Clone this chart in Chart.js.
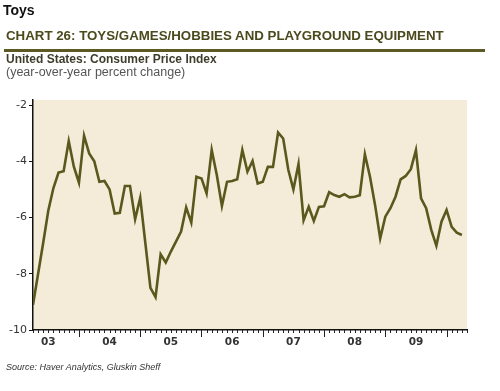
<!DOCTYPE html>
<html>
<head>
<meta charset="utf-8">
<script src="https://cdn.jsdelivr.net/npm/chart.js@4/dist/chart.umd.min.js"></script>
<style>
  html, body { margin: 0; padding: 0; background: #fff; }
  #wrap { position: relative; width: 500px; height: 391px; overflow: hidden; font-family: "Liberation Sans", Arial, sans-serif; }
  #wrap canvas { position: absolute; left: 0; top: 0; }
  .txt { position: absolute; white-space: nowrap; }
  #top { left: 3px; top: 2px; font-size: 14px; font-weight: bold; color: #111; }
  #title { left: 6px; top: 28px; font-size: 13.3px; font-weight: bold; color: #4b4a1d; }
  #rule { position: absolute; left: 4px; top: 49px; width: 481px; height: 3px; background: #5c5a22; }
  #sub1 { left: 6px; top: 52px; font-size: 12px; font-weight: bold; color: #3e3d2c; }
  #sub2 { left: 6px; top: 65px; font-size: 12.5px; color: #555; }
  #src { left: 6px; top: 362px; font-size: 9px; font-style: italic; color: #333; }
</style>
</head>
<body>
<div id="wrap">
  <canvas id="grafico" width="500" height="391"></canvas>
  <div class="txt" id="top">Toys</div>
  <div class="txt" id="title">CHART 26: TOYS/GAMES/HOBBIES AND PLAYGROUND EQUIPMENT</div>
  <div id="rule"></div>
  <div class="txt" id="sub1">United States: Consumer Price Index</div>
  <div class="txt" id="sub2">(year-over-year percent change)</div>
  <div class="txt" id="src">Source: Haver Analytics, Gluskin Sheff</div>
</div>
<script>
// meses desde enero 2003 (abr 2003 .. abr 2010)
const primerMes = 3;
const valores = [
  -9.1, -8.0, -6.9, -5.75, -4.95, -4.4, -4.35, -3.28, -4.19,          // 2003 abr-dic
  -4.76, -3.09, -3.72, -4.0, -4.73, -4.7, -5.0, -5.86, -5.83, -4.88, -4.88, -6.06, // 2004
  -5.3, -6.9, -8.5, -8.83, -7.31, -7.6, -7.21, -6.86, -6.5, -5.64, -6.18, -4.55,   // 2005
  -4.61, -5.14, -3.6, -4.49, -5.59, -4.73, -4.7, -4.64, -3.6, -4.37, -3.99, -4.79, // 2006
  -4.73, -4.2, -4.2, -2.98, -3.19, -4.3, -5.0, -4.1, -6.1, -5.62, -6.12, -5.62,    // 2007
  -5.6, -5.1, -5.2, -5.26, -5.17, -5.28, -5.26, -5.21, -3.75, -4.55, -5.56, -6.74, // 2008
  -5.97, -5.67, -5.26, -4.64, -4.52, -4.28, -3.6, -5.32, -5.67, -6.44, -7.0, -6.15, // 2009
  -5.73, -6.33, -6.54, -6.62                                            // 2010 ene-abr
];
const etiquetasAnio = ['03', '04', '05', '06', '07', '08', '09'];
const ticksY = [-10, -8, -6, -4, -2];

const puntos = valores.map((v, i) => ({ x: primerMes + i, y: v }));

const fondo = {
  id: 'fondo',
  beforeDraw(chart) {
    const { ctx, chartArea: a } = chart;
    ctx.save();
    ctx.fillStyle = '#f4ecd9';
    ctx.fillRect(a.left, a.top, a.right - a.left, a.bottom - a.top);
    ctx.restore();
  },
  afterDraw(chart) {
    // marcas mensuales del eje x (largas en cada cambio de año)
    const { ctx } = chart;
    const sx = chart.scales.x;
    ctx.save();
    ctx.strokeStyle = '#222';
    ctx.lineWidth = 1;
    for (let m = sx.min; m <= sx.max; m++) {
      const px = Math.round(sx.getPixelForValue(m)) + 0.5;
      const largo = m % 12 === 0 ? 7 : 3;
      ctx.beginPath();
      ctx.moveTo(px, sx.top);
      ctx.lineTo(px, sx.top + largo);
      ctx.stroke();
    }
    ctx.restore();
  }
};

new Chart(document.getElementById('grafico'), {
  type: 'line',
  data: {
    datasets: [{
      data: puntos,
      borderColor: '#5a581d',
      borderWidth: 2.6,
      pointRadius: 0,
      tension: 0,
      fill: false
    }]
  },
  options: {
    responsive: false,
    animation: false,
    layout: { padding: { left: 0, top: 100, right: 33, bottom: 36 } },
    plugins: { legend: { display: false }, tooltip: { enabled: false } },
    scales: {
      x: {
        type: 'linear',
        min: 3,
        max: 88,
        afterBuildTicks: s => { s.ticks = etiquetasAnio.map((e, i) => ({ value: i * 12 + 6 })); },
        afterFit: s => { s.height = 25; },
        grid: { drawOnChartArea: false, drawTicks: false },
        border: { color: '#111', width: 1.5 },
        ticks: {
          padding: 6,
          autoSkip: false,
          maxRotation: 0,
          color: '#333',
          font: { family: 'DejaVu Sans', size: 10.5, weight: 'bold' },
          callback: (v, i) => etiquetasAnio[i]
        }
      },
      y: {
        min: -10,
        max: -1.82,
        afterBuildTicks: s => { s.ticks = ticksY.map(v => ({ value: v })); },
        afterFit: s => { s.width = 33; },
        grid: { drawOnChartArea: false, tickLength: 4, tickColor: '#111' },
        border: { color: '#111', width: 1.5 },
        ticks: {
          padding: 2,
          color: '#333',
          font: { family: 'DejaVu Sans', size: 11 }
        }
      }
    }
  },
  plugins: [fondo]
});
</script>
</body>
</html>
